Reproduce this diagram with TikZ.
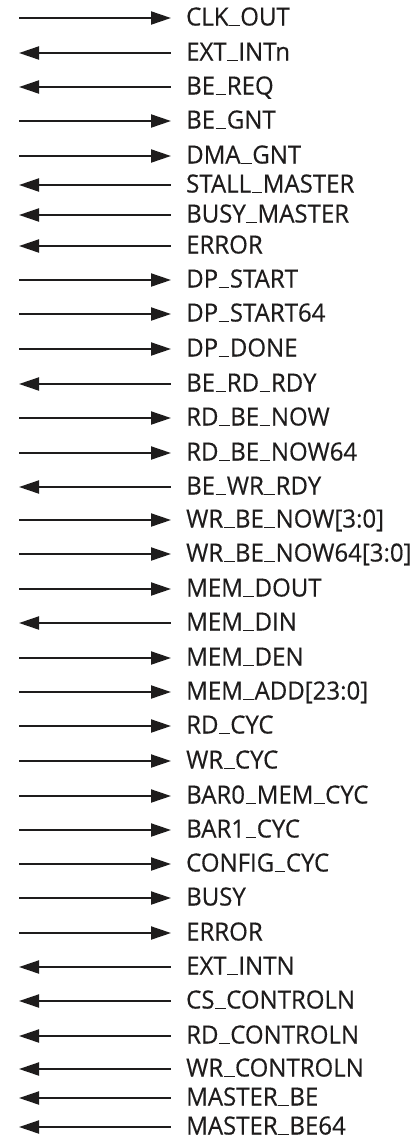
\documentclass[tikz,border=0pt]{standalone}
\usepackage{fontspec}
\setmainfont{Open Sans}[FakeStretch=0.96,FakeBold=0.4]
\usetikzlibrary{arrows.meta}
\newcommand\usc{\kern0.02em\rule[-0.035em]{0.43em}{0.075em}\kern0.02em}
\begin{document}
\begin{tikzpicture}[x=1pt,y=-1pt,
  wire/.style={line width=2pt,draw={rgb,255:red,30;green,28;blue,28}},
  sigout/.style={wire,-{Triangle[length=20pt,width=13pt]}},
  sigin/.style={wire,{Triangle[length=20pt,width=13pt]}-},
  lab/.style={anchor=base west,inner sep=0pt,text={rgb,255:red,30;green,28;blue,28},font=\fontsize{25}{27}\selectfont}]
\useasboundingbox (0,0) rectangle (417,1138);
\foreach \i/\y/\d/\t in {
 1/18/sigout/{CLK\usc OUT},
 2/53/sigin/{EXT\usc INTn},
 3/87/sigin/{BE\usc REQ},
 4/121/sigout/{BE\usc GNT},
 5/156/sigout/{DMA\usc GNT},
 6/185/sigin/{STALL\usc MASTER},
 7/215/sigin/{BUSY\usc MASTER},
 8/246/sigin/{ERROR},
 9/280/sigout/{DP\usc START},
 10/314/sigout/{DP\usc START64},
 11/349/sigout/{DP\usc DONE},
 12/384/sigin/{BE\usc RD\usc RDY},
 13/418/sigout/{RD\usc BE\usc NOW},
 14/453/sigout/{RD\usc BE\usc NOW64},
 15/487/sigin/{BE\usc WR\usc RDY},
 16/520/sigout/{WR\usc BE\usc NOW[3:0]},
 17/554/sigout/{WR\usc BE\usc NOW64[3:0]},
 18/589/sigout/{MEM\usc DOUT},
 19/623/sigin/{MEM\usc DIN},
 20/658/sigout/{MEM\usc DEN},
 21/692/sigout/{MEM\usc ADD[23:0]},
 22/726/sigout/{RD\usc CYC},
 23/761/sigout/{WR\usc CYC},
 24/796/sigout/{BAR0\usc MEM\usc CYC},
 25/830/sigout/{BAR1\usc CYC},
 26/864/sigout/{CONFIG\usc CYC},
 27/898/sigout/{BUSY},
 28/933/sigout/{ERROR},
 29/967/sigin/{EXT\usc INTN},
 30/1001/sigin/{CS\usc CONTROLN},
 31/1036/sigin/{RD\usc CONTROLN},
 32/1069/sigin/{WR\usc CONTROLN},
 33/1098/sigin/{MASTER\usc BE},
 34/1127/sigin/{MASTER\usc BE64}} {
  \coordinate (a\i) at (19,\y);
  \coordinate (b\i) at (171,\y);
  \node[lab] (t\i) at (186,\y+7.5) {\t};
  \draw[\d] (a\i) -- (b\i);
}
\end{tikzpicture}
\end{document}
